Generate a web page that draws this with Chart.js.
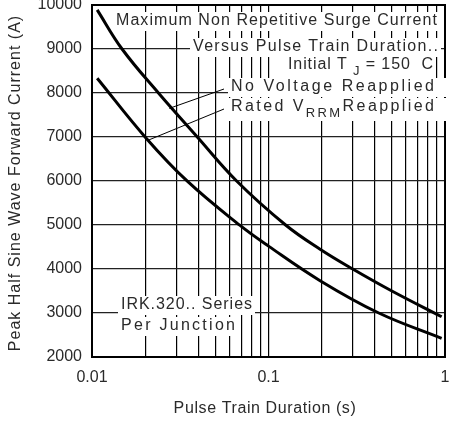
<!DOCTYPE html>
<html>
<head>
<meta charset="utf-8">
<script src="https://cdn.jsdelivr.net/npm/chart.js"></script>
<style>
  html, body { margin: 0; padding: 0; background: #fff; }
  canvas { display: block; }
</style>
</head>
<body>
<canvas id="chart" width="461" height="428"></canvas>
<script>
// pulse train duration (s) and peak current (A)
let noVoltageT = [0.0107, 0.0148, 0.0238, 0.0395, 0.066, 0.125, 0.196, 0.3, 0.5, 0.957];
let noVoltageI = [9890, 9000, 8000, 7000, 6000, 5000, 4450, 4000, 3500, 2915];

let ratedT = [0.0107, 0.0201, 0.0348, 0.069, 0.1, 0.196, 0.4215, 0.957];
let ratedI = [8335, 6990, 5990, 4990, 4520, 3735, 3000, 2425];

let xTickValues = [0.01, 0.1, 1];
let xTickLabels = ['0.01', '0.1', '1'];
let yTickValues = [2000, 3000, 4000, 5000, 6000, 7000, 8000, 9000, 10000];
let yTickLabels = ['2000', '3000', '4000', '5000', '6000', '7000', '8000', '9000', '10000'];

// where the two leader lines touch the curves
let noVoltageLeader = { x: 0.0274, y: 7650 };
let ratedLeader = { x: 0.0209, y: 6930 };

let FONT = '"Liberation Sans", Arial, sans-serif';
let INK = '#2a2a2a';

function toPoints(ts, is) {
    let pts = [];
    for (let i = 0; i < ts.length; i++) {
        pts.push({ x: ts[i], y: is[i] });
    }
    return pts;
}

// gridlines at 1..9 x each decade
let xGrid = [];
for (let d = 0.01; d < 1; d *= 10) {
    for (let m = 1; m < 10; m++) xGrid.push(+(m * d).toPrecision(3));
}
xGrid.push(1);

// text blocks: parts, left, right, middle y
let notes = [
    { parts: [{ t: 'Maximum Non Repetitive Surge Current' }], x0: 116, x1: 437, y: 21 },
    { parts: [{ t: 'Versus Pulse Train Duration..' }], x0: 193, x1: 438, y: 47 },
    { parts: [{ t: 'Initial T ' }, { t: 'J', sub: true }, { t: ' = 150  C' }], x0: 288, x1: 433, y: 65 },
    { parts: [{ t: 'No Voltage Reapplied' }], x0: 231, x1: 434, y: 87, wide: true },
    { parts: [{ t: 'Rated V' }, { t: 'RRM', sub: true }, { t: 'Reapplied' }], x0: 231, x1: 434, y: 107, wide: true },
    { parts: [{ t: 'IRK.320.. Series' }], x0: 121, x1: 252, y: 305 },
    { parts: [{ t: 'Per Junction' }], x0: 121, x1: 235, y: 326 }
];

function drawNote(ctx, n) {
    let chars = 0, natural = 0;
    ctx.letterSpacing = '0px';
    n.parts.forEach(p => {
        ctx.font = (p.sub ? '13px ' : '16px ') + FONT;
        natural += ctx.measureText(p.t).width;
        chars += p.t.length;
    });
    let ls = (n.x1 - n.x0 - natural) / Math.max(chars - 1, 1);
    ctx.fillStyle = '#fff';
    let right = n.wide ? 448 : n.x1 + 3;
    ctx.fillRect(n.x0 - 3, n.y - 9, right - n.x0 + 3, n.parts.some(p => p.sub) ? 23 : 19);
    ctx.fillStyle = INK;
    ctx.textAlign = 'left';
    ctx.textBaseline = 'middle';
    ctx.letterSpacing = ls + 'px';
    let x = n.x0;
    n.parts.forEach(p => {
        ctx.font = (p.sub ? '13px ' : '16px ') + FONT;
        ctx.fillText(p.t, x, p.sub ? n.y + 6 : n.y);
        x += ctx.measureText(p.t).width;
    });
    ctx.letterSpacing = '0px';
}

let overlay = {
    id: 'overlay',
    beforeDatasetsDraw(chart) {
        let ctx = chart.ctx, a = chart.chartArea;
        let xs = chart.scales.x, ys = chart.scales.y;
        ctx.save();
        ctx.strokeStyle = '#000';
        ctx.lineWidth = 2;
        ctx.strokeRect(a.left, a.top, a.right - a.left, a.bottom - a.top);

        notes.forEach(n => drawNote(ctx, n));

        // leader lines
        ctx.strokeStyle = '#000';
        ctx.lineWidth = 1;
        ctx.beginPath();
        ctx.moveTo(224, 89);
        ctx.lineTo(xs.getPixelForValue(noVoltageLeader.x), ys.getPixelForValue(noVoltageLeader.y));
        ctx.moveTo(224, 109);
        ctx.lineTo(xs.getPixelForValue(ratedLeader.x), ys.getPixelForValue(ratedLeader.y));
        ctx.stroke();

        // axis titles
        ctx.fillStyle = INK;
        ctx.font = '16px ' + FONT;
        ctx.textAlign = 'center';
        ctx.textBaseline = 'middle';
        ctx.letterSpacing = '0.6px';
        ctx.fillText('Pulse Train Duration (s)', 265, 409);
        ctx.translate(16, 183);
        ctx.rotate(-Math.PI / 2);
        ctx.letterSpacing = '1px';
        ctx.fillText('Peak Half Sine Wave Forward Current (A)', 0, 0);
        ctx.restore();
    }
};

new Chart(document.getElementById('chart'), {
    type: 'line',
    data: {
        datasets: [
            { label: 'No Voltage Reapplied', data: toPoints(noVoltageT, noVoltageI) },
            { label: 'Rated VRRM Reapplied', data: toPoints(ratedT, ratedI) }
        ]
    },
    options: {
        responsive: false,
        animation: false,
        devicePixelRatio: 1,
        layout: { padding: { left: 0, top: 5, right: 16, bottom: 0 } },
        elements: {
            point: { radius: 0 },
            line: { borderColor: '#000', borderWidth: 3, tension: 0.4, fill: false }
        },
        plugins: { legend: { display: false }, tooltip: { enabled: false } },
        scales: {
            x: {
                type: 'logarithmic',
                min: 0.01,
                max: 1,
                afterBuildTicks: s => { s.ticks = xGrid.map(v => ({ value: v })); },
                afterFit: s => { s.height = 71; s.paddingLeft = 0; s.paddingRight = 0; },
                grid: { color: '#000', lineWidth: 1.2, drawTicks: false },
                border: { color: '#000', width: 2 },
                ticks: {
                    autoSkip: false,
                    maxRotation: 0,
                    padding: 11,
                    color: INK,
                    font: { family: FONT, size: 16 },
                    callback: v => {
                        let i = xTickValues.findIndex(t => Math.abs(t - v) / t < 1e-6);
                        return i >= 0 ? xTickLabels[i] : '';
                    }
                }
            },
            y: {
                min: 2000,
                max: 10000,
                afterBuildTicks: s => { s.ticks = yTickValues.map(v => ({ value: v })); },
                afterFit: s => { s.width = 92; s.paddingTop = 0; s.paddingBottom = 0; },
                grid: { color: '#222', lineWidth: 1.2, drawTicks: false },
                border: { color: '#000', width: 2 },
                ticks: {
                    padding: 10,
                    color: INK,
                    font: { family: FONT, size: 16 },
                    callback: v => yTickLabels[yTickValues.indexOf(v)]
                }
            }
        }
    },
    plugins: [overlay]
});
</script>
</body>
</html>
